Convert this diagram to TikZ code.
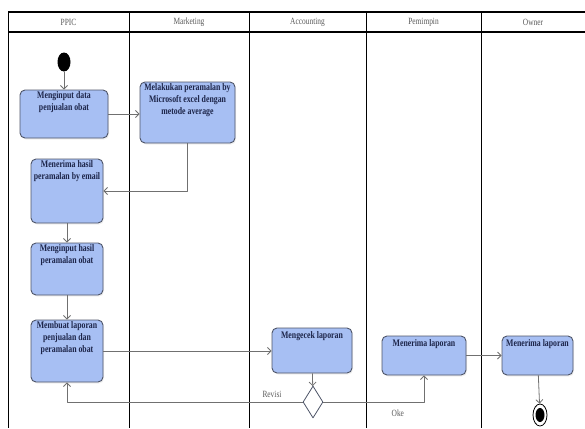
\documentclass[tikz,border=0pt]{standalone}
\usepackage{fontspec}
\setmainfont{Liberation Serif}
\newfontfamily\sempit[FakeStretch=0.78]{Liberation Serif}
\usetikzlibrary{arrows.meta,shapes.geometric,shadows}
\definecolor{isibox}{HTML}{A7BFF3}
\definecolor{garisbox}{HTML}{4E5568}
\definecolor{teksbox}{HTML}{1C2448}
\definecolor{panah}{HTML}{707070}
\newcommand{\isiakt}[3]{\parbox[c][#2][t]{#1}{\centering #3}}
\tikzset{
	aktivitas/.style={draw=garisbox,line width=0.9pt,fill=isibox,rounded corners=5pt,inner sep=2pt,
		font=\sempit\bfseries\fontsize{10}{12}\selectfont,text=teksbox,
		drop shadow={shadow xshift=1pt,shadow yshift=-1.5pt,fill=black!12}},
	alur/.style={draw=panah,line width=0.8pt,-{Straight Barb[length=3.5pt,width=7pt]}},
	judul/.style={font=\sempit\fontsize{9.5}{11}\selectfont,text=black!65},
	ket/.style={font=\sempit\fontsize{9.5}{11}\selectfont,text=black!65}
}
\begin{document}
\begin{tikzpicture}[x=1pt,y=-1pt,line join=round]
		\useasboundingbox (0,0) rectangle (585,428);
		% swimlane
		\draw[line width=1.5pt] (8,12)--(585,12);
		\draw[line width=1.5pt] (8,32)--(585,32);
		\foreach \xl in {8,129,249,366,481}
			\draw[line width=0.9pt] (\xl,12)--(\xl,428);
		\node[judul] (hppic) at (68.5,22) {PPIC};
		\node[judul] (hmarketing) at (189,22) {Marketing};
		\node[judul] (haccounting) at (307.5,22) {Accounting};
		\node[judul] (hpemimpin) at (423.5,22) {Pemimpin};
		\node[judul] (howner) at (533,22) {Owner};
		% aktivitas
		\node[ellipse,fill=black,inner sep=0,minimum width=13pt,minimum height=19pt] (mulai) at (64,62) {};
		\node[aktivitas] (inputdata) at (64,114) {\isiakt{84pt}{44pt}{Menginput data\\ penjualan obat}};
		\node[aktivitas] (ramal) at (187.5,112.5) {\isiakt{91pt}{57pt}{Melakukan peramalan by\\ Microsoft excel dengan\\ metode average}};
		\node[aktivitas] (terimaemail) at (67,191) {\isiakt{68pt}{60pt}{Menerima hasil\\ peramalan by email}};
		\node[aktivitas] (inputhasil) at (67,269) {\isiakt{68pt}{48pt}{Menginput hasil\\ peramalan obat}};
		\node[aktivitas] (laporan) at (67,351) {\isiakt{68pt}{58pt}{Membuat laporan\\ penjualan dan\\ peramalan obat}};
		\node[aktivitas] (cek) at (312,350.5) {\isiakt{76pt}{41pt}{\vspace{2pt}Mengecek laporan}};
		\node[diamond,draw=garisbox,line width=0.8pt,fill=white,inner sep=0,aspect=0.625,minimum width=20pt,minimum height=32pt] (pilih) at (313,402) {};
		\node[aktivitas] (terimapimpin) at (424,355.5) {\isiakt{80pt}{35pt}{\vspace{2pt}Menerima laporan}};
		\node[aktivitas] (terimaowner) at (537.5,355.5) {\isiakt{67pt}{35pt}{\vspace{2pt}Menerima laporan}};
		\node[ellipse,draw=black,line width=0.8pt,fill=white,inner sep=0,minimum width=14pt,minimum height=22pt] (akhir) at (540,415) {};
		\fill (akhir.center) ellipse [x radius=4.5pt,y radius=7pt];
		% alur
		\draw[alur] (mulai)--(inputdata);
		\draw[alur] (inputdata.east)--(inputdata.east -| ramal.west);
		\draw[alur] (ramal.south)|-(terimaemail.east);
		\draw[alur] (terimaemail)--(inputhasil);
		\draw[alur] (inputhasil)--(laporan);
		\draw[alur] (laporan.east)--(laporan.east -| cek.west);
		\draw[alur] (cek)--(pilih);
		\draw[alur] (pilih.west)-|(laporan.south) node[ket,pos=0.065,above=1pt] {Revisi};
		\draw[alur] (pilih.east)-|(terimapimpin.south) node[ket,pos=0.37,below=4pt] {Oke};
		\draw[alur] (terimapimpin.east)--(terimapimpin.east -| terimaowner.west);
		\draw[alur] (terimaowner)--(akhir);
\end{tikzpicture}
\end{document}
